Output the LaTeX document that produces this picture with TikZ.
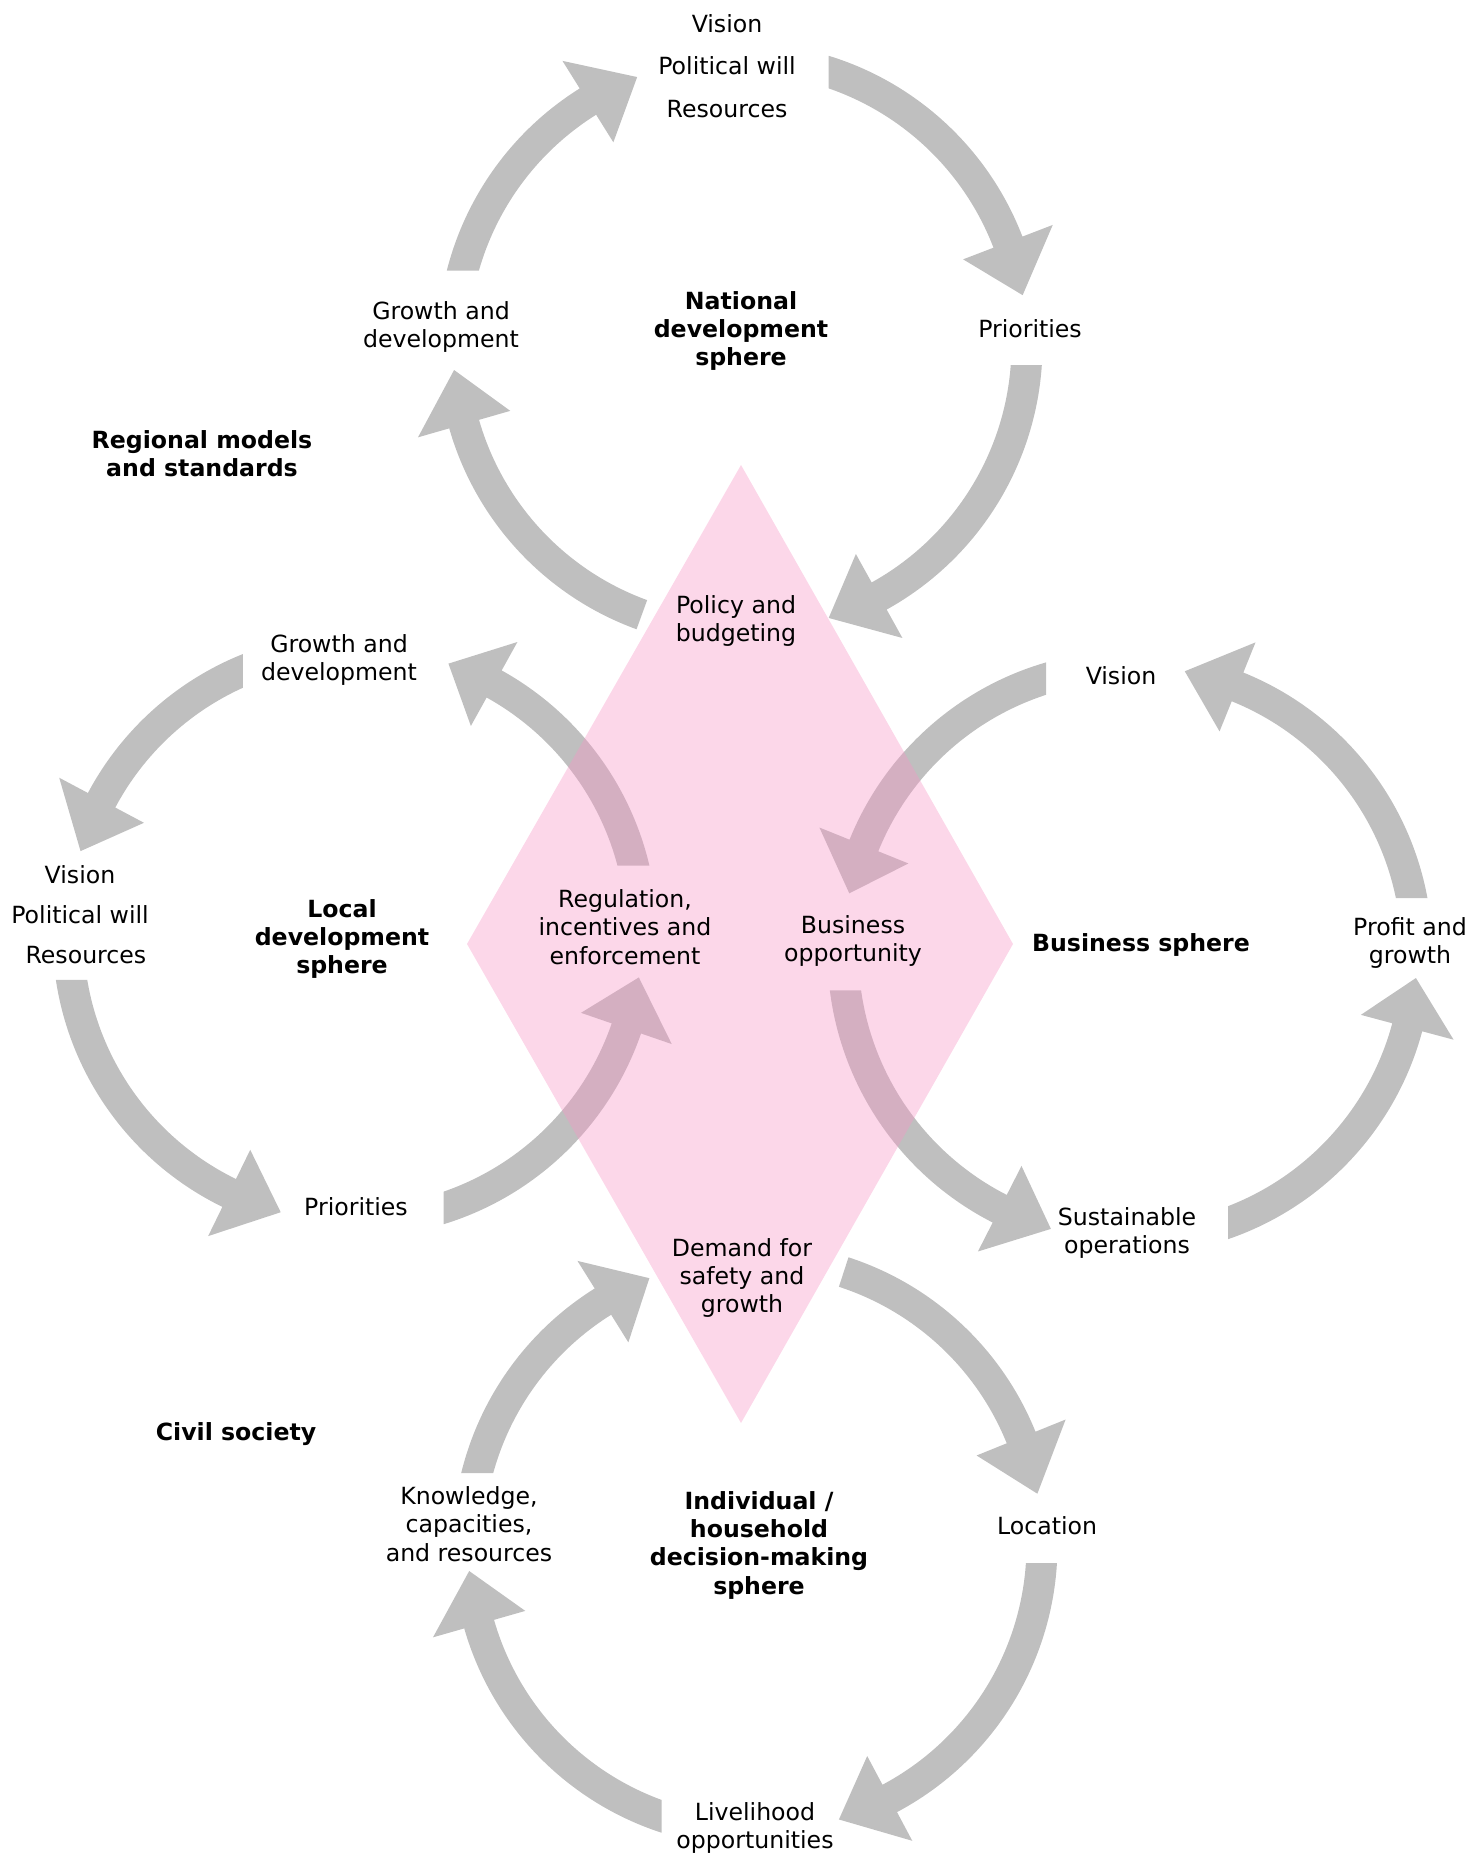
\documentclass[tikz,border=0pt]{standalone}
\usepackage{fontspec}
\setmainfont{DejaVu Sans}
\usepackage{tikz}
\usetikzlibrary{calc}
\definecolor{arrowgray}{HTML}{BFBFBF}
\definecolor{rose}{HTML}{F796C6}

% curved block arrow round a centre: #2/#3 outer/inner tail angle, #4 head base, #5 tip
\newcommand{\cyclearrow}[5]{%
  \fill[arrowgray] ($(#1)+(#2:302.5)$) arc[start angle=#2, end angle=#4, radius=302.5]
    -- ($(#1)+(#4:335)$) -- ($(#1)+(#5:287)$) -- ($(#1)+(#4:239)$)
    -- ($(#1)+(#4:271.5)$) arc[start angle=#4, end angle=#3, radius=271.5] -- cycle;}

\begin{document}
\begin{tikzpicture}[x=0.4232pt, y=0.4232pt,
  itemtext/.style={align=center, inner sep=0pt},
  spheretext/.style={align=center, inner sep=0pt, font=\bfseries}]
\useasboundingbox (0,0) rectangle (1471,-1853);

% centres of the four cycles
\coordinate (nat) at (740,-345);
\coordinate (loc) at (355,-935);
\coordinate (bus) at (1130,-953);
\coordinate (ind) at (755,-1545);

% arrows of each cycle
\foreach \tailo/\taili/\hb/\tp in {165.79/164.12/122/111, 72.95/70.93/21/10, -3.795/-4.229/-61/-72, 250/250/196/185}
  \cyclearrow{nat}{\tailo}{\taili}{\hb}{\tp};
\foreach \tailo/\taili/\hb/\tp in {111.76/114.40/152/163, 188.54/189.52/244/255, 287.05/289.07/341/351.5, 13.27/14.817/61/71}
  \cyclearrow{loc}{\tailo}{\taili}{\hb}{\tp};
\foreach \tailo/\taili/\hb/\tp in {106.10/108.00/158/168, 187.11/187.93/243/254, 288.94/291.20/345/355, 10.43/11.637/68/79}
  \cyclearrow{bus}{\tailo}{\taili}{\hb}{\tp};
\foreach \tailo/\taili/\hb/\tp in {166.26/164.65/122/111.6, 72/72/22/10.3, -3.415/-3.806/-62/-73, 252.01/249.87/196/185.2}
  \cyclearrow{ind}{\tailo}{\taili}{\hb}{\tp};

% the diamond in the middle
\coordinate (dtop) at (741,-465);
\coordinate (dright) at (1013,-944);
\coordinate (dbottom) at (741,-1423);
\coordinate (dleft) at (467,-944);
\fill[rose, fill opacity=0.38] (dtop) -- (dright) -- (dbottom) -- (dleft) -- cycle;

% national sphere
\node[itemtext] (natvision) at (727,-66) {Vision\\[6pt]Political will\\[6pt]Resources};
\node[spheretext] (natsphere) at (741,-331) {National\\development\\sphere};
\node[itemtext] (natprio) at (1030,-329) {Priorities};
\node[itemtext] (natgrowth) at (441,-327) {Growth and\\development};
\node[itemtext] (policy) at (736,-621) {Policy and\\budgeting};
\node[spheretext] (regional) at (202,-454) {Regional models\\and standards};

% local sphere
\node[itemtext] (locgrowth) at (339,-660) {Growth and\\development};
\node[itemtext] (locvision) at (80,-915) {Vision\\[5pt]Political will\\[5pt]\hspace*{5pt}Resources};
\node[spheretext] (locsphere) at (342,-939) {Local\\development\\sphere};
\node[itemtext] (locprio) at (356,-1207) {Priorities};
\node[itemtext] (regulation) at (625,-927) {Regulation,\\incentives and\\enforcement};

% business sphere
\node[itemtext] (busvision) at (1121,-676) {Vision};
\node[itemtext] (busopp) at (853,-941) {Business\\opportunity};
\node[spheretext] (bussphere) at (1141,-945) {Business sphere};
\node[itemtext] (profit) at (1410,-943) {Profit and\\growth};
\node[itemtext] (sustain) at (1127,-1233) {Sustainable\\operations};

% individual / household sphere
\node[itemtext] (demand) at (742,-1278) {Demand for\\safety and\\growth};
\node[spheretext] (civil) at (236,-1434) {Civil society};
\node[itemtext] (knowledge) at (469,-1524) {Knowledge,\\capacities,\\and resources};
\node[spheretext] (indsphere) at (759,-1545) {Individual /\\household\\decision-making\\sphere};
\node[itemtext] (location) at (1047,-1526) {Location};
\node[itemtext] (livelihood) at (755,-1828) {Livelihood\\opportunities};

\end{tikzpicture}
\end{document}
